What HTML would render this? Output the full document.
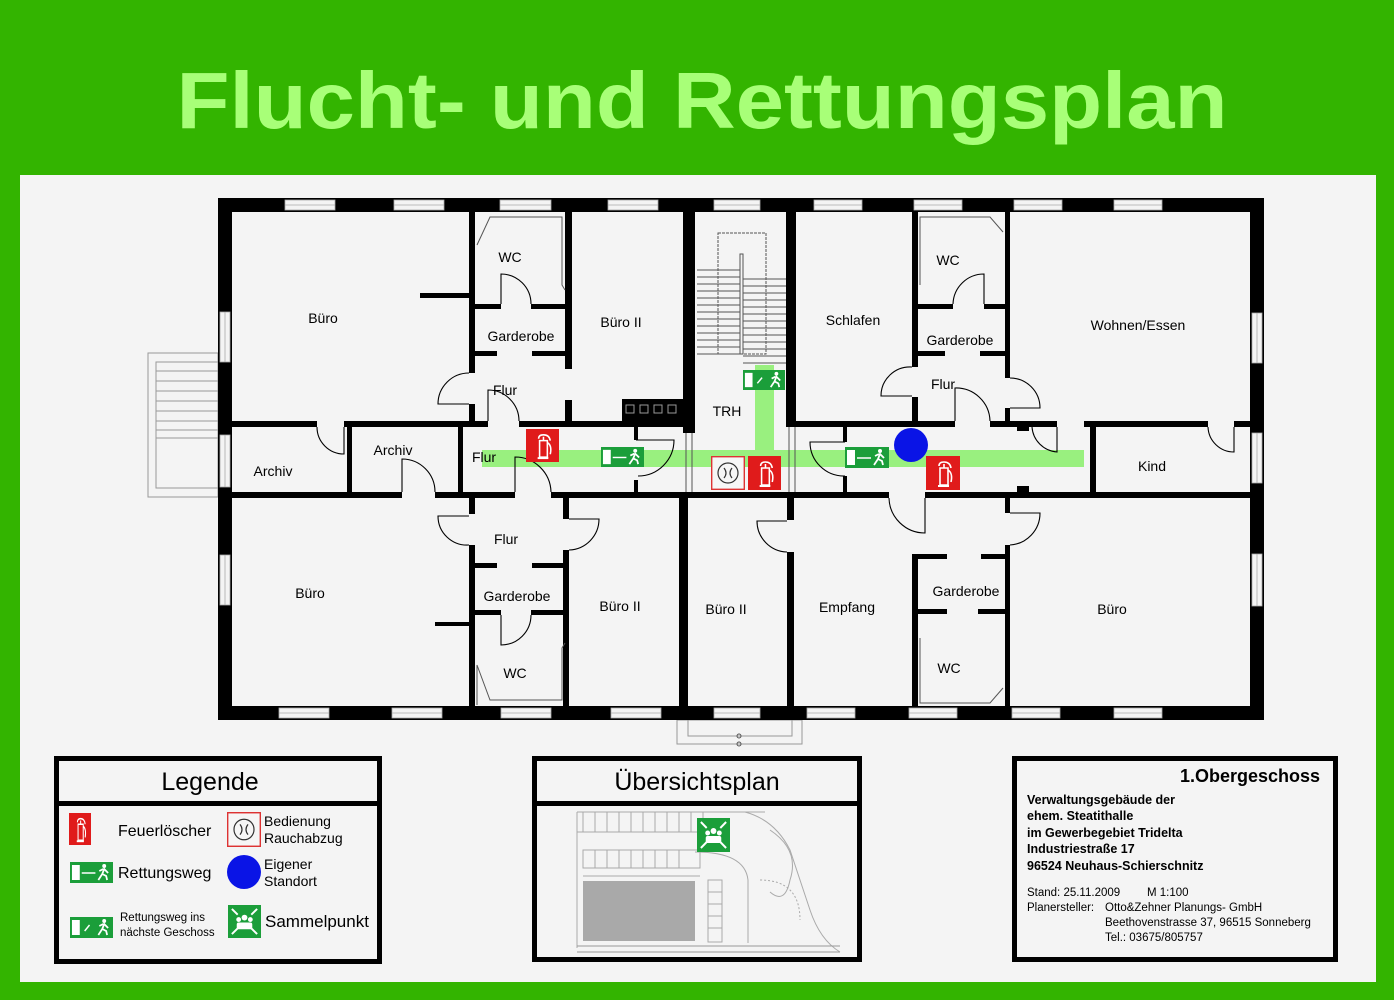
<!DOCTYPE html>
<html><head><meta charset="utf-8"><style>
html,body{margin:0;padding:0;background:#33b400;}
svg{display:block;}
text{font-family:"Liberation Sans",Arial,sans-serif;}
</style></head><body>
<svg width="1394" height="1000" viewBox="0 0 1394 1000" xmlns="http://www.w3.org/2000/svg">
<defs>
<symbol id="fe" viewBox="0 0 34 34" preserveAspectRatio="none">
<rect width="34" height="34" fill="#e01b1b"/>
<path d="M13 10 q0-4 5-4 q6 0 7 6 M14 12 h8 v17 h-8 z M18 8 v4 M22 14 q5 3 3 12" fill="none" stroke="#fff" stroke-width="1.6"/>
<rect x="12" y="29" width="11" height="2" fill="#fff"/>
</symbol>
<symbol id="ex" viewBox="0 0 44 21" preserveAspectRatio="none">
<rect width="44" height="21" fill="#1b9e3a"/>
<rect x="2" y="3" width="8" height="15" fill="#fff"/>
<line x1="12" y1="11" x2="26" y2="11" stroke="#fff" stroke-width="1.5"/>
<circle cx="35" cy="4" r="2" fill="#fff"/>
<path d="M29 18 l4-6 l2-5 l4 4 M33 12 l4 2 l1 4 M30 9 l4-2" fill="none" stroke="#fff" stroke-width="1.8"/>
</symbol>
<symbol id="st" viewBox="0 0 44 21" preserveAspectRatio="none">
<rect width="44" height="21" fill="#1b9e3a"/>
<rect x="2" y="3" width="8" height="15" fill="#fff"/>
<line x1="15" y1="14" x2="20" y2="8" stroke="#fff" stroke-width="1.5"/>
<circle cx="35" cy="4" r="2" fill="#fff"/>
<path d="M29 18 l4-6 l2-5 l4 4 M33 12 l4 2 l1 4 M30 9 l4-2" fill="none" stroke="#fff" stroke-width="1.8"/>
</symbol>
<symbol id="sa" viewBox="0 0 34 34" preserveAspectRatio="none">
<rect width="34" height="34" fill="#1b9e3a"/>
<circle cx="17" cy="13" r="3" fill="#fff"/><circle cx="11" cy="15" r="2.5" fill="#fff"/><circle cx="23" cy="15" r="2.5" fill="#fff"/>
<rect x="9" y="18" width="16" height="7" rx="2" fill="#fff"/>
<path d="M4 4 l6 6 M30 4 l-6 6 M4 30 l6-6 M30 30 l-6-6" stroke="#fff" stroke-width="2"/>
</symbol>
<symbol id="ra" viewBox="0 0 34 34" preserveAspectRatio="none">
<rect x="0.7" y="0.7" width="32.6" height="32.6" fill="#f6f6f6" stroke="#d33" stroke-width="1.4"/>
<circle cx="17" cy="17" r="10" fill="none" stroke="#333" stroke-width="1.2"/>
<path d="M13 12 q4 5 0 10 M21 12 q-4 5 0 10" fill="none" stroke="#333" stroke-width="1.2"/>
</symbol>
</defs>

<rect x="0" y="0" width="1394" height="1000" fill="#33b400"/>
<rect x="20" y="175" width="1356" height="807" fill="#f4f4f4"/>
<text x="702" y="128" text-anchor="middle" font-size="80" font-weight="bold" fill="#a8ff78" textLength="1051" lengthAdjust="spacingAndGlyphs">Flucht- und Rettungsplan</text>

<!-- external stair -->
<g fill="none" stroke="#999" stroke-width="1">
<rect x="148" y="353" width="70" height="144"/>
<rect x="156" y="362" width="62" height="126"/>
<path d="M156 371H218M156 381H218M156 391H218M156 401H218M156 411H218M156 421H218M156 430H218M156 438H218"/>
<rect x="677" y="720" width="125" height="24"/>
<rect x="688" y="720" width="104" height="16"/>
</g>
<circle cx="739" cy="736" r="2" fill="none" stroke="#555"/><circle cx="739" cy="744" r="2" fill="none" stroke="#555"/>

<!-- green paths -->
<rect x="482" y="450" width="602" height="17" fill="#99f07f"/>
<rect x="755" y="365" width="19" height="90" fill="#99f07f"/>

<!-- outer walls -->
<g fill="#000">
<rect x="218" y="198" width="1046" height="14"/>
<rect x="218" y="706" width="1046" height="14"/>
<rect x="218" y="198" width="14" height="522"/>
<rect x="1250" y="198" width="14" height="522"/>
</g>
<!-- windows -->
<g fill="#f4f4f4" stroke="#aaa" stroke-width="0.8">
<rect x="285" y="200" width="50" height="10"/><rect x="394" y="200" width="50" height="10"/><rect x="500" y="200" width="51" height="10"/><rect x="608" y="200" width="50" height="10"/><rect x="714" y="200" width="46" height="10"/><rect x="814" y="200" width="48" height="10"/><rect x="914" y="200" width="48" height="10"/><rect x="1014" y="200" width="48" height="10"/><rect x="1114" y="200" width="48" height="10"/>
<rect x="279" y="708" width="50" height="10"/><rect x="392" y="708" width="50" height="10"/><rect x="501" y="708" width="50" height="10"/><rect x="611" y="708" width="50" height="10"/><rect x="714" y="708" width="46" height="10"/><rect x="807" y="708" width="48" height="10"/><rect x="909" y="708" width="48" height="10"/><rect x="1012" y="708" width="48" height="10"/><rect x="1114" y="708" width="48" height="10"/>
<rect x="220" y="312" width="10" height="50"/><rect x="220" y="435" width="10" height="52"/><rect x="220" y="555" width="10" height="50"/>
<rect x="1252" y="313" width="10" height="50"/><rect x="1252" y="433" width="10" height="50"/><rect x="1252" y="554" width="10" height="52"/>
</g>
<g stroke="#aaa" stroke-width="0.8">
<path d="M285 205H335M394 205H444M500 205H551M608 205H658M714 205H760M814 205H862M914 205H962M1014 205H1062M1114 205H1162"/>
<path d="M279 713H329M392 713H442M501 713H551M611 713H661M714 713H760M807 713H855M909 713H957M1012 713H1060M1114 713H1162"/>
<path d="M225 312V362M225 435V487M225 555V605M1257 313V363M1257 433V483M1257 554V606"/>
</g>

<!-- interior walls -->
<g fill="#000">
<rect x="469" y="212" width="6" height="161"/><rect x="469" y="404" width="6" height="23"/>
<rect x="420" y="293" width="49" height="5"/>
<rect x="475" y="304" width="26" height="5"/><rect x="531" y="304" width="34" height="5"/>
<rect x="475" y="351" width="22" height="5"/><rect x="532" y="351" width="33" height="5"/>
<rect x="565" y="212" width="7" height="157"/><rect x="565" y="400" width="7" height="27"/>
<rect x="683" y="212" width="12" height="221"/>
<rect x="622" y="399" width="61" height="28"/>
<rect x="232" y="421" width="85" height="6"/><rect x="344" y="421" width="144" height="6"/><rect x="519" y="421" width="170" height="6"/>
<rect x="347" y="427" width="5" height="65"/><rect x="458" y="427" width="5" height="65"/>
<rect x="232" y="492" width="170" height="6"/><rect x="435" y="492" width="80" height="6"/><rect x="551" y="492" width="338" height="6"/><rect x="925" y="492" width="325" height="6"/>
<rect x="786" y="212" width="10" height="215"/>
<rect x="796" y="421" width="159" height="6"/><rect x="990" y="421" width="67" height="6"/><rect x="1084" y="421" width="124" height="6"/><rect x="1234" y="421" width="16" height="6"/>
<rect x="912" y="212" width="6" height="155"/><rect x="912" y="397" width="6" height="24"/>
<rect x="1005" y="212" width="5" height="166"/><rect x="1005" y="408" width="5" height="13"/>
<rect x="918" y="304" width="35" height="5"/><rect x="984" y="304" width="21" height="5"/>
<rect x="918" y="351" width="27" height="5"/><rect x="980" y="351" width="25" height="5"/>
<rect x="1090" y="421" width="6" height="77"/>
<rect x="1017" y="422" width="12" height="9"/><rect x="1017" y="486" width="12" height="9"/>
<rect x="843" y="427" width="4" height="15"/><rect x="843" y="476" width="4" height="16"/>
<rect x="634" y="427" width="4" height="13"/><rect x="634" y="480" width="4" height="12"/>
<rect x="469" y="498" width="6" height="16"/><rect x="469" y="545" width="6" height="161"/>
<rect x="435" y="622" width="34" height="4"/>
<rect x="563" y="498" width="6" height="21"/><rect x="563" y="550" width="6" height="156"/>
<rect x="475" y="563" width="22" height="5"/><rect x="532" y="563" width="31" height="5"/>
<rect x="475" y="610" width="26" height="5"/><rect x="531" y="610" width="32" height="5"/>
<rect x="679" y="498" width="9" height="208"/>
<rect x="787" y="498" width="7" height="22"/><rect x="787" y="552" width="7" height="154"/>
<rect x="912" y="554" width="6" height="152"/><rect x="912" y="554" width="35" height="5"/><rect x="981" y="554" width="24" height="5"/>
<rect x="918" y="609" width="29" height="5"/><rect x="978" y="609" width="27" height="5"/>
<rect x="1005" y="498" width="5" height="15"/><rect x="1005" y="545" width="5" height="161"/>
</g>
<g fill="none" stroke="#555" stroke-width="1">
<path d="M626 405h8v8h-8zM640 405h8v8h-8zM654 405h8v8h-8zM668 405h8v8h-8z" stroke="#999"/>
<path d="M686 433V492M692 433V492M789 427V492M795 427V492"/>
<rect x="718" y="233" width="48" height="121" stroke-dasharray="3,1"/>
<path d="M697 270H740M697 277H740M697 284H740M697 291H740M697 298H740M697 305H740M697 312H740M697 319H740M697 326H740M697 333H740M697 340H740M697 347H740M697 354H740"/>
<path d="M743 279H786M743 286H786M743 293H786M743 300H786M743 307H786M743 314H786M743 321H786M743 328H786M743 335H786M743 342H786M743 349H786M743 356H786M743 363H786"/>
<path d="M740 254V354H743V254z"/>
<path d="M477 245 L490 217 H562 V285 L565 290"/>
<path d="M477 705 V665 L490 700 H562 V648 L565 643" />
<path d="M920 285 V217 H990 L1003 232"/>
<path d="M920 638 V703 H990 L1003 688"/>
</g>
<!-- doors -->
<g fill="none" stroke="#000" stroke-width="1.1">
<path d="M501 304V274A30 30 0 0 1 531 304"/>
<path d="M488 421V390A31 31 0 0 1 519 421"/>
<path d="M469 404H438A31 31 0 0 1 469 373"/>
<path d="M344 427V454A27 27 0 0 1 317 427"/>
<path d="M402 492V459A33 33 0 0 1 435 492"/>
<path d="M515 492V457A36 36 0 0 1 551 492"/>
<path d="M469 516H438A29 29 0 0 0 469 545"/>
<path d="M569 519H599A31 31 0 0 1 569 550"/>
<path d="M501 615V645A30 30 0 0 0 531 615"/>
<path d="M636 440H674A36 36 0 0 1 638 476"/>
<path d="M845 442H810A34 34 0 0 0 845 476"/>
<path d="M912 396H881A29 29 0 0 1 912 367"/>
<path d="M984 304V274A31 31 0 0 0 953 304"/>
<path d="M1010 408H1040A30 30 0 0 0 1010 378"/>
<path d="M955 421V388A34 34 0 0 1 990 421"/>
<path d="M1057 427V452A27 27 0 0 1 1032 427"/>
<path d="M1234 427V452A26 26 0 0 1 1208 427"/>
<path d="M925 498V533A36 36 0 0 1 889 498"/>
<path d="M787 521H757A31 31 0 0 0 787 552"/>
<path d="M1010 513H1040A32 32 0 0 1 1010 545"/>
</g>

<!-- signs -->
<use href="#fe" x="526" y="429" width="33" height="33"/>
<use href="#ex" x="601" y="447" width="43" height="20"/>
<use href="#st" x="743" y="370" width="42" height="20"/>
<use href="#ra" x="711" y="456" width="34" height="34"/>
<use href="#fe" x="748" y="456" width="33" height="34"/>
<use href="#ex" x="845" y="447" width="44" height="21"/>
<use href="#fe" x="926" y="456" width="34" height="34"/>
<circle cx="911" cy="445" r="17" fill="#0a14e6"/>

<!-- room labels -->
<g font-size="14" fill="#000" text-anchor="middle">
<text x="323" y="323">Büro</text>
<text x="510" y="262">WC</text>
<text x="521" y="341">Garderobe</text>
<text x="621" y="327">Büro II</text>
<text x="505" y="395">Flur</text>
<text x="484" y="462">Flur</text>
<text x="393" y="455">Archiv</text>
<text x="273" y="476">Archiv</text>
<text x="310" y="598">Büro</text>
<text x="506" y="544">Flur</text>
<text x="517" y="601">Garderobe</text>
<text x="620" y="611">Büro II</text>
<text x="515" y="678">WC</text>
<text x="727" y="416">TRH</text>
<text x="853" y="325">Schlafen</text>
<text x="948" y="265">WC</text>
<text x="960" y="345">Garderobe</text>
<text x="943" y="389">Flur</text>
<text x="1138" y="330">Wohnen/Essen</text>
<text x="1152" y="471">Kind</text>
<text x="726" y="614">Büro II</text>
<text x="847" y="612">Empfang</text>
<text x="966" y="596">Garderobe</text>
<text x="949" y="673">WC</text>
<text x="1112" y="614">Büro</text>
</g>

<!-- Legende -->
<rect x="56.5" y="758.5" width="323" height="203" fill="none" stroke="#000" stroke-width="5"/>
<rect x="56" y="801" width="324" height="5" fill="#000"/>
<text x="210" y="790" text-anchor="middle" font-size="25">Legende</text>
<use href="#fe" x="69" y="813" width="22" height="32"/>
<text x="118" y="836" font-size="16">Feuerlöscher</text>
<use href="#ra" x="227" y="812" width="34" height="35"/>
<text x="264" y="826" font-size="14">Bedienung</text>
<text x="264" y="843" font-size="14">Rauchabzug</text>
<use href="#ex" x="70" y="862" width="43" height="21"/>
<text x="118" y="878" font-size="16">Rettungsweg</text>
<circle cx="244" cy="872" r="17" fill="#0a14e6"/>
<text x="264" y="869" font-size="14">Eigener</text>
<text x="264" y="886" font-size="14">Standort</text>
<use href="#st" x="70" y="917" width="43" height="21"/>
<text x="120" y="921" font-size="11.5">Rettungsweg ins</text>
<text x="120" y="936" font-size="11.5">nächste Geschoss</text>
<use href="#sa" x="228" y="905" width="33" height="33"/>
<text x="265" y="927" font-size="17">Sammelpunkt</text>

<!-- Übersichtsplan -->
<rect x="534.5" y="758.5" width="325" height="201" fill="none" stroke="#000" stroke-width="5"/>
<rect x="534" y="801" width="326" height="5" fill="#000"/>
<text x="697" y="790" text-anchor="middle" font-size="25">Übersichtsplan</text>
<g fill="none" stroke="#aaa" stroke-width="1">
<path d="M577 812H765M577 812V948M583 812V832M595 812V832M607 812V832M619 812V832M631 812V832M643 812V832M655 812V832M667 812V832M679 812V832M691 812V832M703 812V832M577 832H700"/>
<path d="M583 850H700V868H583zM595 850V868M607 850V868M619 850V868M631 850V868M643 850V868M655 850V868M667 850V868M679 850V868"/>
<path d="M583 876H700M708 880V942H722V880zM708 892H722M708 904H722M708 916H722M708 928H722"/>
<path d="M695 852Q745 852 748 880V943"/>
<path d="M745 812Q775 820 790 850Q800 880 810 910Q820 940 840 952"/>
<path d="M770 830Q800 850 790 880Q785 905 770 892"/>
<path d="M577 946H840M577 952H840" stroke="#999"/>
<path d="M760 880Q800 880 800 920" stroke-dasharray="2,2"/>
</g>
<rect x="583" y="881" width="112" height="60" fill="#a9a9a9"/>
<use href="#sa" x="697" y="818" width="33" height="34"/>

<!-- Info box -->
<rect x="1014.5" y="758.5" width="321" height="201" fill="none" stroke="#000" stroke-width="5"/>
<text x="1320" y="782" text-anchor="end" font-size="18" font-weight="bold">1.Obergeschoss</text>
<g font-size="12.5" font-weight="bold">
<text x="1027" y="804">Verwaltungsgebäude der</text>
<text x="1027" y="820">ehem. Steatithalle</text>
<text x="1027" y="837">im Gewerbegebiet Tridelta</text>
<text x="1027" y="853">Industriestraße 17</text>
<text x="1027" y="870">96524 Neuhaus-Schierschnitz</text>
</g>
<g font-size="11.5">
<text x="1027" y="896">Stand: 25.11.2009</text><text x="1147" y="896">M 1:100</text>
<text x="1027" y="911">Planersteller:</text><text x="1105" y="911">Otto&amp;Zehner Planungs- GmbH</text>
<text x="1105" y="926">Beethovenstrasse 37, 96515 Sonneberg</text>
<text x="1105" y="941">Tel.: 03675/805757</text>
</g>
</svg>
</body></html>
